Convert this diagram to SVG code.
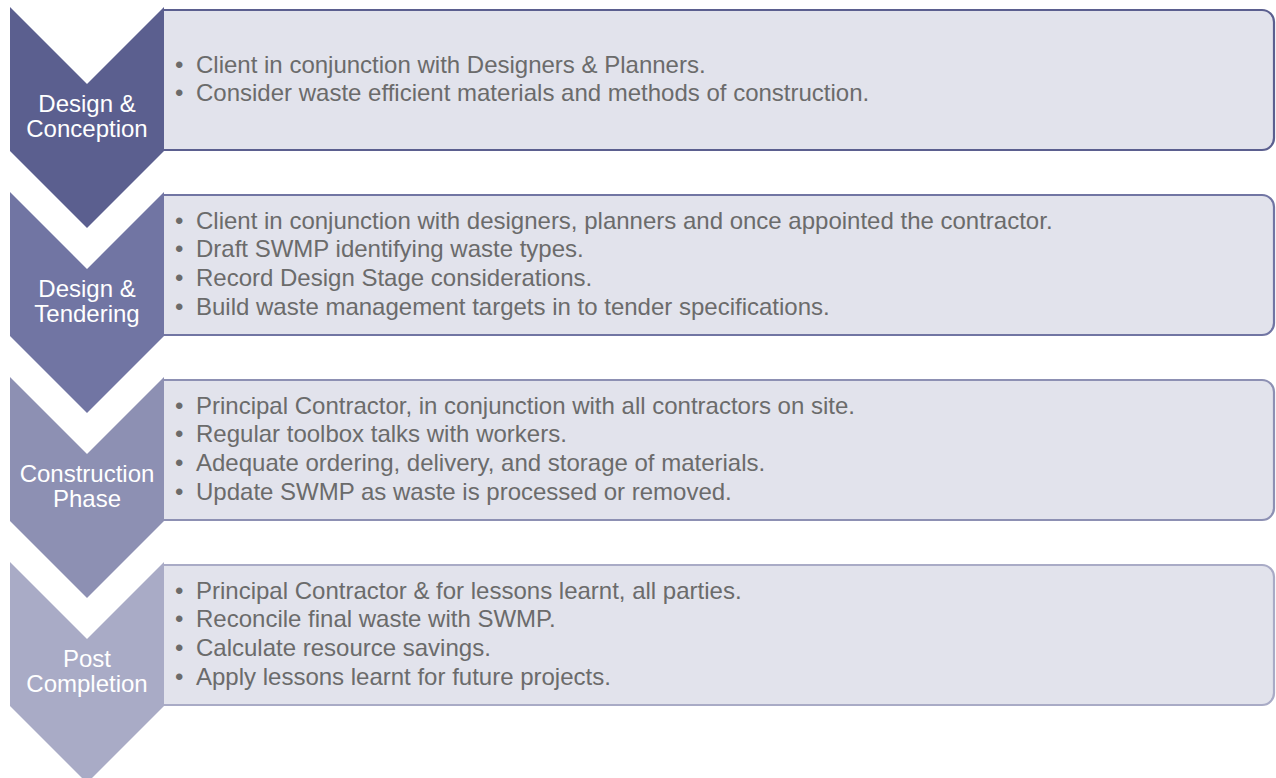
<svg xmlns="http://www.w3.org/2000/svg" width="1276" height="778" viewBox="0 0 1276 778">
  <style>
    .box { fill: #E2E3EC; stroke-width: 2.2; }
    .label { font-family: "Liberation Sans", Arial, sans-serif; font-size: 24px; fill: #FFFFFF; text-anchor: middle; }
    .item { font-family: "Liberation Sans", Arial, sans-serif; font-size: 24px; fill: #6B6B6B; }
  </style>
  <defs>
    <!-- detail panel: open on the left (it tucks under the chevron), rounded right corners -->
    <path id="panel" d="M163,0 H1262 A12,12 0 0 1 1274,12 V128 A12,12 0 0 1 1262,140 H163"/>
    <!-- downward chevron -->
    <path id="chev" d="M10,0 L87,77 L164,0 V144 L87,221 L10,144 Z"/>
  </defs>
  <rect width="1276" height="778" fill="#FFFFFF"/>

  <!-- Stage 1 -->
  <g id="stage-design-conception">
    <use href="#panel" class="box" stroke="#5B5F8F" transform="translate(0,10)"/>
    <use href="#chev" fill="#5B5F8F" transform="translate(0,7)"/>
    <text class="label"><tspan x="87" y="112">Design &amp;</tspan><tspan x="87" y="137">Conception</tspan></text>
    <g class="item">
      <text x="175" y="72.5">•</text><text x="196" y="72.5">Client in conjunction with Designers &amp; Planners.</text>
      <text x="175" y="101.3">•</text><text x="196" y="101.3">Consider waste efficient materials and methods of construction.</text>
    </g>
  </g>

  <!-- Stage 2 -->
  <g id="stage-design-tendering">
    <use href="#panel" class="box" stroke="#7175A3" transform="translate(0,195)"/>
    <use href="#chev" fill="#7175A3" transform="translate(0,192)"/>
    <text class="label"><tspan x="87" y="297">Design &amp;</tspan><tspan x="87" y="322">Tendering</tspan></text>
    <g class="item">
      <text x="175" y="228.5">•</text><text x="196" y="228.5">Client in conjunction with designers, planners and once appointed the contractor.</text>
      <text x="175" y="257.3">•</text><text x="196" y="257.3">Draft SWMP identifying waste types.</text>
      <text x="175" y="286.1">•</text><text x="196" y="286.1">Record Design Stage considerations.</text>
      <text x="175" y="314.9">•</text><text x="196" y="314.9">Build waste management targets in to tender specifications.</text>
    </g>
  </g>

  <!-- Stage 3 -->
  <g id="stage-construction">
    <use href="#panel" class="box" stroke="#8D90B3" transform="translate(0,380)"/>
    <use href="#chev" fill="#8D90B3" transform="translate(0,377)"/>
    <text class="label"><tspan x="87" y="482">Construction</tspan><tspan x="87" y="507">Phase</tspan></text>
    <g class="item">
      <text x="175" y="413.5">•</text><text x="196" y="413.5">Principal Contractor, in conjunction with all contractors on site.</text>
      <text x="175" y="442.3">•</text><text x="196" y="442.3">Regular toolbox talks with workers.</text>
      <text x="175" y="471.1">•</text><text x="196" y="471.1">Adequate ordering, delivery, and storage of materials.</text>
      <text x="175" y="499.9">•</text><text x="196" y="499.9">Update SWMP as waste is processed or removed.</text>
    </g>
  </g>

  <!-- Stage 4 -->
  <g id="stage-post-completion">
    <use href="#panel" class="box" stroke="#A9ABC6" transform="translate(0,565)"/>
    <use href="#chev" fill="#A9ABC6" transform="translate(0,562)"/>
    <text class="label"><tspan x="87" y="667">Post</tspan><tspan x="87" y="692">Completion</tspan></text>
    <g class="item">
      <text x="175" y="598.5">•</text><text x="196" y="598.5">Principal Contractor &amp; for lessons learnt, all parties.</text>
      <text x="175" y="627.3">•</text><text x="196" y="627.3">Reconcile final waste with SWMP.</text>
      <text x="175" y="656.1">•</text><text x="196" y="656.1">Calculate resource savings.</text>
      <text x="175" y="684.9">•</text><text x="196" y="684.9">Apply lessons learnt for future projects.</text>
    </g>
  </g>

  <g id="connectors"/>
</svg>
